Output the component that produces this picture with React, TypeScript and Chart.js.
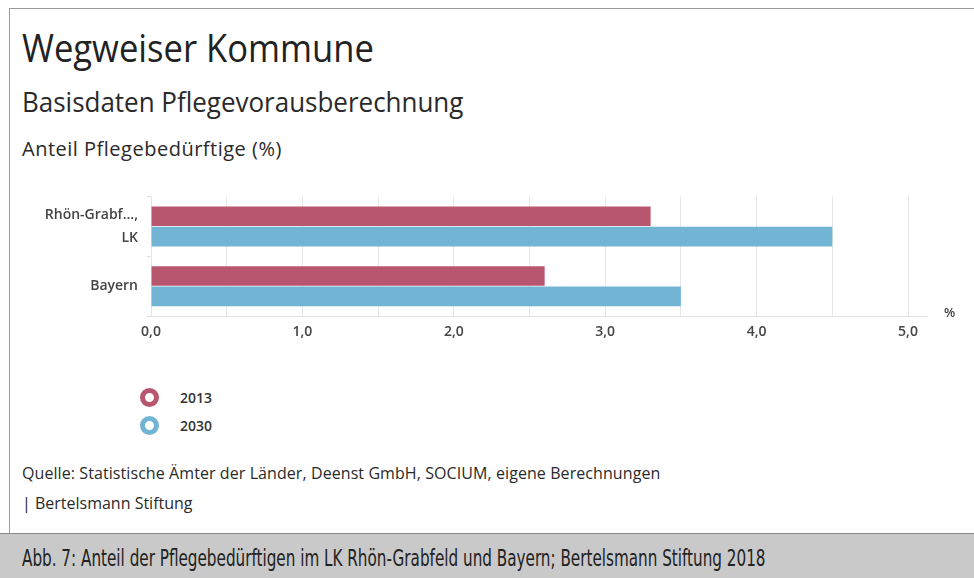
import React, { useEffect, useRef } from "react";
import { Chart, registerables } from "chart.js";

Chart.register(...registerables);

const categories: (string | string[])[] = [["Rhön-Grabf...,", "LK"], "Bayern"];
const series2013 = [3.3, 2.6];
const series2030 = [4.5, 3.5];
const seriesLabels = ["2013", "2030"];
const colors = ["#b8566f", "#72b4d3"];
const xMax = 5;

const extendAxis = {
  id: "extendAxis",
  afterDraw(chart: any) {
    const { ctx, chartArea } = chart;
    ctx.save();
    ctx.strokeStyle = "#e3e3e3";
    ctx.lineWidth = 1;
    ctx.beginPath();
    ctx.moveTo(chartArea.right, chartArea.bottom + 0.5);
    ctx.lineTo(chartArea.right + 20, chartArea.bottom + 0.5);
    ctx.stroke();
    ctx.restore();
  },
};

export default function App() {
  const ref = useRef<HTMLCanvasElement>(null);
  useEffect(() => {
    if (!ref.current) return;
    const chart = new Chart(ref.current, {
      type: "bar",
      data: {
        labels: categories,
        datasets: [
          { label: seriesLabels[0], data: series2013, backgroundColor: colors[0] },
          { label: seriesLabels[1], data: series2030, backgroundColor: colors[1] },
        ],
      },
      options: {
        indexAxis: "y",
        animation: false,
        responsive: false,
        maintainAspectRatio: false,
        layout: { padding: { top: 0, right: 52, bottom: 0, left: 0 } },
        datasets: { bar: { categoryPercentage: 0.68, barPercentage: 0.97 } } as any,
        plugins: { legend: { display: false }, tooltip: { enabled: false } },
        scales: {
          x: {
            min: 0,
            max: xMax,
            ticks: {
              stepSize: 0.5,
              padding: 8,
              color: "#444",
              font: { family: "Open Sans", size: 14, weight: "600" as any },
              callback: (v: any) => (Number(v) % 1 === 0 ? Number(v).toFixed(1).replace(".", ",") : ""),
              maxRotation: 0,
              autoSkip: false,
            },
            grid: { color: "#e6e6e6", drawTicks: false },
            border: { display: true, color: "#e3e3e3" },
            afterFit: (s: any) => { s.height = 36; },
          },
          y: {
            ticks: {
              padding: 9,
              color: "#444",
              font: { family: "Open Sans", size: 14, weight: "600" as any, lineHeight: 1.65 },
            },
            grid: { offset: true, drawOnChartArea: false, tickLength: 4, color: "#dcdcdc" },
            border: { display: false },
            afterFit: (s: any) => { s.width = 131; },
          },
        },
      },
      plugins: [extendAxis],
    });
    return () => chart.destroy();
  }, []);

  const legendItem = (i: number, top: number) => (
    <div key={i} style={{ position: "absolute", left: 140, top, display: "flex", alignItems: "center" }}>
      <div style={{ width: 9, height: 9, borderRadius: "50%", border: `5px solid ${colors[i]}`, background: "#fff" }} />
      <span style={{ marginLeft: 21, fontFamily: "Open Sans", fontWeight: 600, fontSize: 14, color: "#333" }}>{seriesLabels[i]}</span>
    </div>
  );

  const text = (t: string, left: number, top: number, size: number, sx: number, extra: any = {}) => (
    <div style={{ position: "absolute", left, top, fontSize: size, color: "#2a2a2a", whiteSpace: "nowrap", lineHeight: "normal", transform: `scaleX(${sx})`, transformOrigin: "left top", ...extra }}>{t}</div>
  );

  return (
    <div style={{ position: "absolute", left: 0, top: 0, width: 974, height: 578, background: "#fff", overflow: "hidden", fontFamily: "Open Sans" }}>
      <div style={{ position: "absolute", left: 9, top: 8, width: 970, height: 526, border: "1px solid #9a9a9a", boxSizing: "border-box" }} />
      {text("Wegweiser Kommune", 22, 21, 38, 0.91, { color: "#222" })}
      {text("Basisdaten Pflegevorausberechnung", 22, 84, 26.5, 0.98)}
      {text("Anteil Pflegebedürftige (%)", 22, 135, 20, 1.0, { letterSpacing: 0.5 })}
      <canvas ref={ref} width={940} height={176} style={{ position: "absolute", left: 20, top: 176, width: 940, height: 176 }} />
      <div style={{ position: "absolute", left: 944, top: 303, fontSize: 13, fontWeight: 600, color: "#444" }}>%</div>
      {legendItem(0, 388)}
      {legendItem(1, 416)}
      {text("Quelle: Statistische Ämter der Länder, Deenst GmbH, SOCIUM, eigene Berechnungen", 22, 462, 16, 1.0, { letterSpacing: 0.08 })}
      {text("| Bertelsmann Stiftung", 22, 492, 16, 1.0)}
      <div style={{ position: "absolute", left: 0, top: 533, width: 974, height: 45, background: "#c9c9c9", borderTop: "1px solid #8a8a8a", boxSizing: "border-box" }} />
      {text("Abb. 7: Anteil der Pflegebedürftigen im LK Rhön-Grabfeld und Bayern; Bertelsmann Stiftung 2018", 22, 545, 23, 0.735, { fontFamily: "Liberation Sans Narrow, DejaVu Sans Condensed, sans-serif", color: "#222" })}
    </div>
  );
}
